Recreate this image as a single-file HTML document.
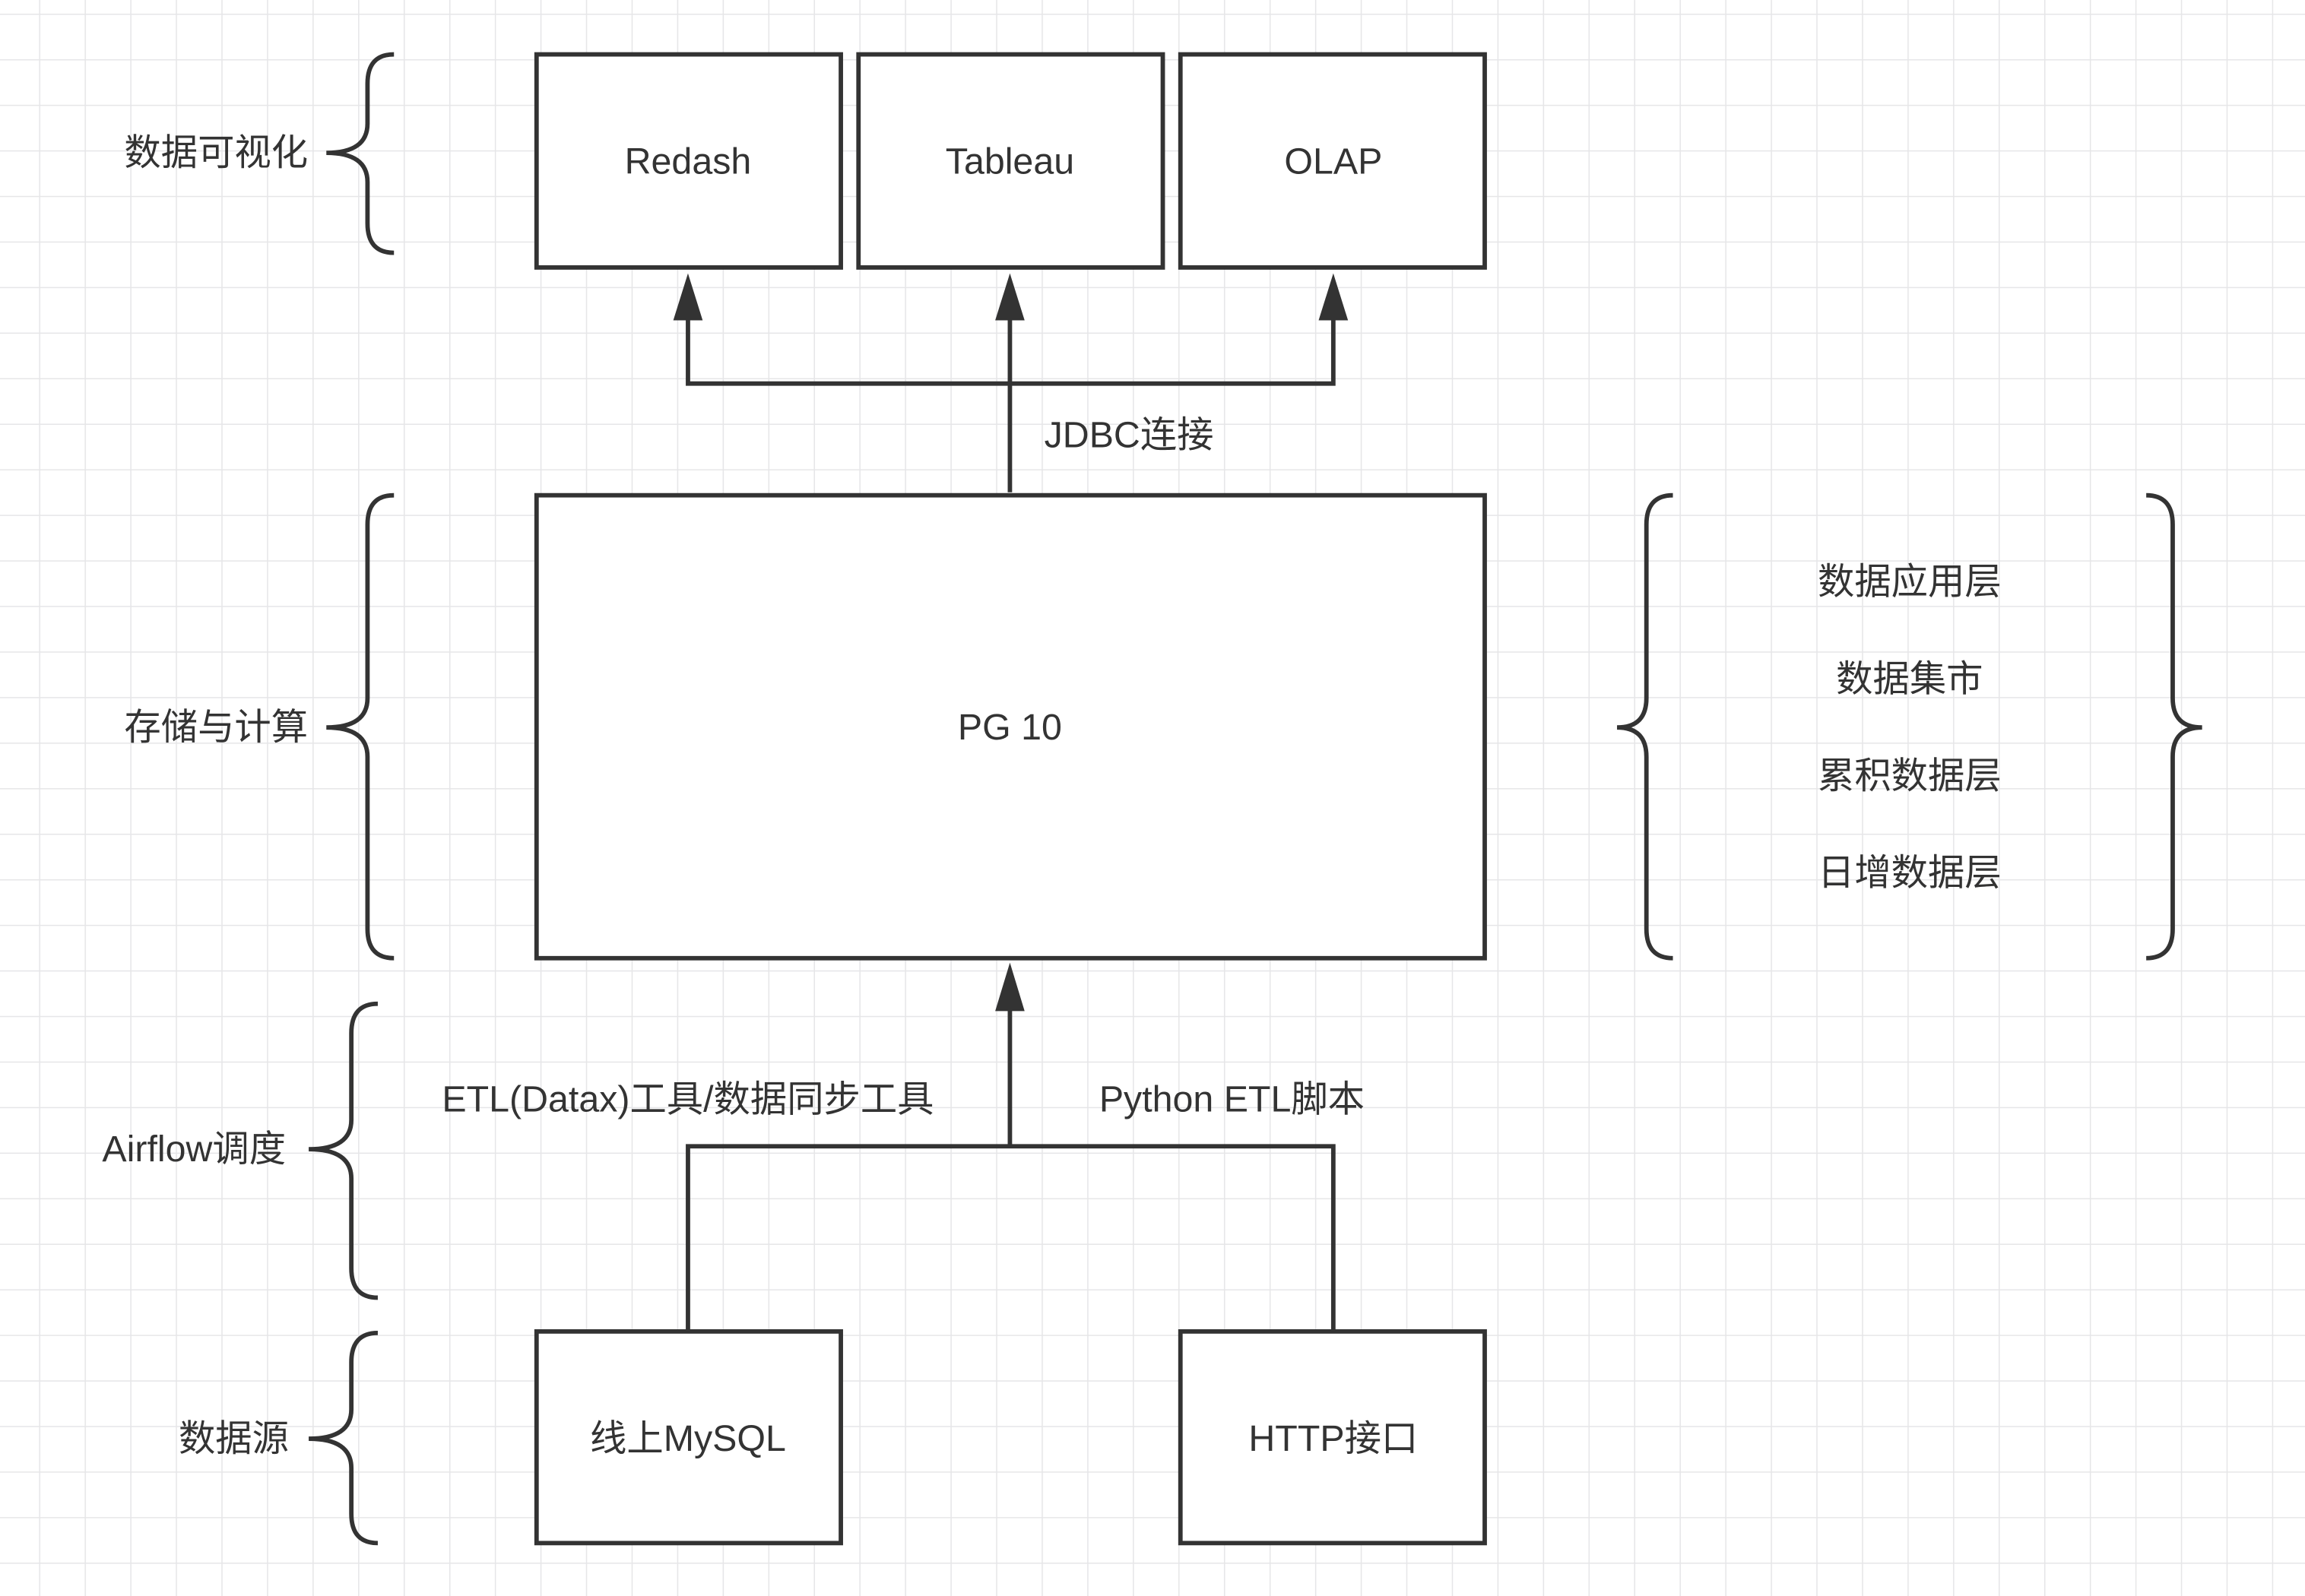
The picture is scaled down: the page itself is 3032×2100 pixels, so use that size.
<!DOCTYPE html>
<html><head><meta charset="utf-8"><style>html,body{margin:0;padding:0;background:#fff}svg{display:block}</style></head>
<body>
<svg width="3032" height="2100" viewBox="0 0 1568 1086" xmlns="http://www.w3.org/2000/svg">
<defs>
<pattern id="g" x="26.6" y="9.3" width="31" height="31" patternUnits="userSpaceOnUse">
<path d="M0,0 H31 M0,0 V31" stroke="#e6e6e8" stroke-width="1.6" fill="none"/>
</pattern>
</defs>
<rect width="1568" height="1086" fill="#fff"/>
<rect width="1568" height="1086" fill="url(#g)"/>
<g fill="none" stroke="#333" stroke-width="3">
<rect x="365" y="37" width="207" height="145" fill="#fff"/>
<rect x="584" y="37" width="207" height="145" fill="#fff"/>
<rect x="803" y="37" width="207" height="145" fill="#fff"/>
<rect x="365" y="337" width="645" height="315" fill="#fff"/>
<rect x="365" y="906" width="207" height="144" fill="#fff"/>
<rect x="803" y="906" width="207" height="144" fill="#fff"/>
<path d="M468,216 V261 H907 V216 M687,335 V216"/>
<path d="M468,906 V780 H907 V906 M687,780 V686"/>
<path d="M268,37 Q250,37 250,57 V84 Q250,104 222,104 Q250,104 250,124 V152 Q250,172 268,172"/>
<path d="M268,337 Q250,337 250,357 V475 Q250,495 222,495 Q250,495 250,515 V632 Q250,652 268,652"/>
<path d="M257,683 Q239,683 239,703 V762 Q239,782 210,782 Q239,782 239,802 V863 Q239,883 257,883"/>
<path d="M257,907 Q239,907 239,927 V959 Q239,979 210,979 Q239,979 239,999 V1030 Q239,1050 257,1050"/>
<path d="M1138,337 Q1120,337 1120,357 V475 Q1120,495 1100,495 Q1120,495 1120,515 V632 Q1120,652 1138,652"/>
<path d="M1460,337 Q1478,337 1478,357 V475 Q1478,495 1498,495 Q1478,495 1478,515 V632 Q1478,652 1460,652"/>
</g>
<g fill="#333">
<path d="M468,186 L458,218 H478 Z"/>
<path d="M687,186 L677,218 H697 Z"/>
<path d="M907,186 L897,218 H917 Z"/>
<path d="M687,655 L677,688 H697 Z"/>
</g>
<g font-family="Liberation Sans, Noto Sans CJK SC, sans-serif" font-size="25" fill="#333" text-anchor="middle" dominant-baseline="central">
<text x="468" y="110">Redash</text>
<text x="687" y="110">Tableau</text>
<text x="907" y="110">OLAP</text>
<text x="687" y="495">PG 10</text>
<text x="468" y="979">线上MySQL</text>
<text x="907" y="979">HTTP接口</text>
<text x="768" y="296">JDBC连接</text>
<text x="468" y="748">ETL(Datax)工具/数据同步工具</text>
<text x="838" y="748">Python ETL脚本</text>
<text x="147" y="104">数据可视化</text>
<text x="147" y="495">存储与计算</text>
<text x="132" y="782">Airflow调度</text>
<text x="159" y="979">数据源</text>
<text x="1299" y="396">数据应用层</text>
<text x="1299" y="462">数据集市</text>
<text x="1299" y="528">累积数据层</text>
<text x="1299" y="594">日增数据层</text>
</g>
</svg>
</body></html>
